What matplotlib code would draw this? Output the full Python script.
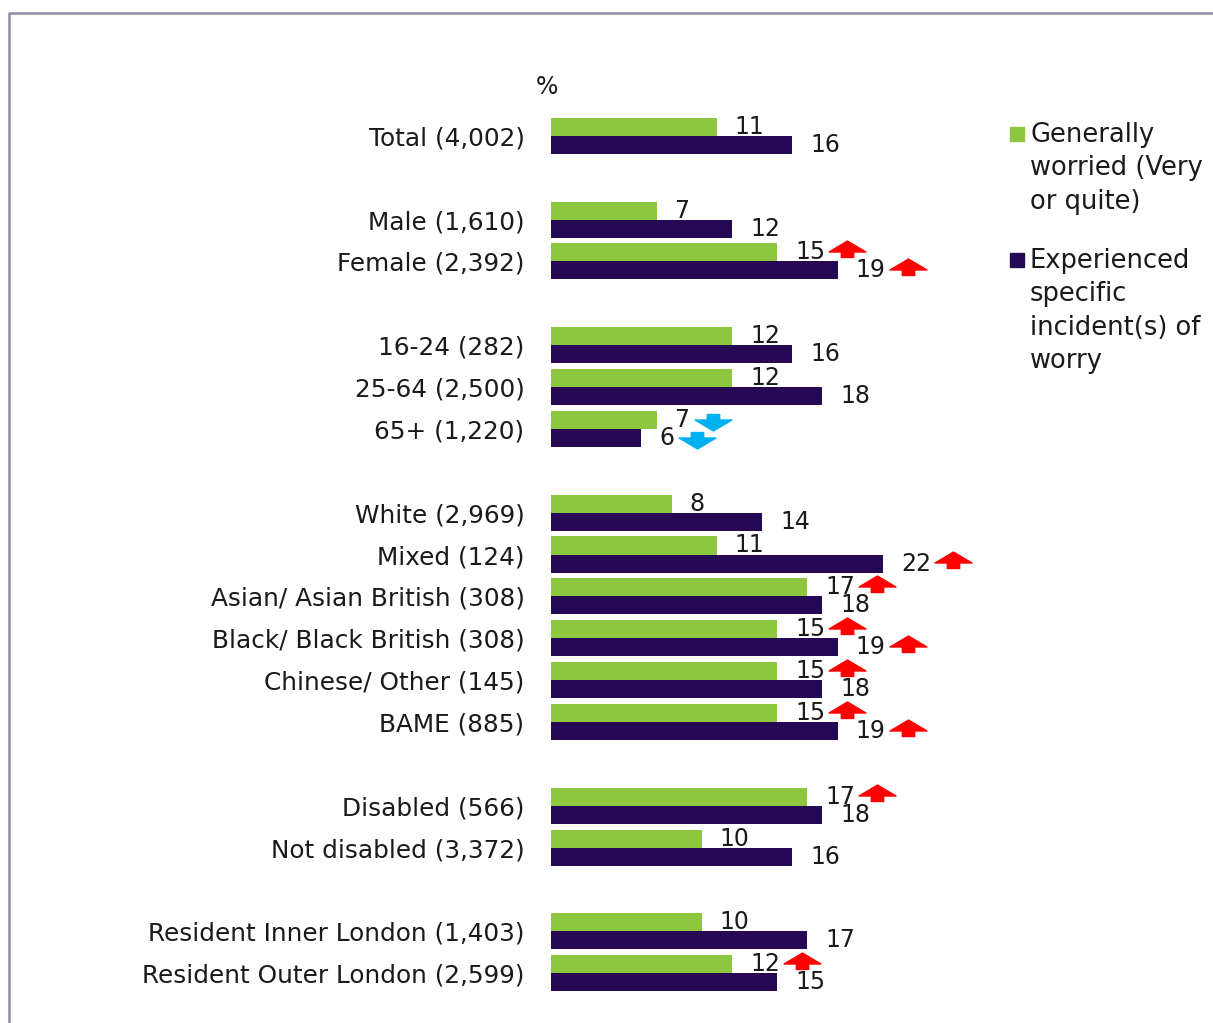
import matplotlib.pyplot as plt
from matplotlib.path import Path
from matplotlib.lines import Line2D
from matplotlib.patches import Rectangle
import matplotlib.transforms as mtransforms

plt.rcParams['font.family'] = ['DejaVu Sans']

# groups of categories, a blank row is left between groups
groups = [
    ["Total (4,002)"],
    ["Male (1,610)", "Female (2,392)"],
    ["16-24 (282)", "25-64 (2,500)", "65+ (1,220)"],
    ["White (2,969)", "Mixed (124)", "Asian/ Asian British (308)",
     "Black/ Black British (308)", "Chinese/ Other (145)", "BAME (885)"],
    ["Disabled (566)", "Not disabled (3,372)"],
    ["Resident Inner London (1,403)", "Resident Outer London (2,599)"],
]

worried = [11, 7, 15, 12, 12, 7, 8, 11, 17, 15, 15, 15, 17, 10, 10, 12]
incident = [16, 12, 19, 16, 18, 6, 14, 22, 18, 19, 18, 19, 18, 16, 17, 15]

# significant differences vs total: "+" higher, "-" lower
worried_sig = ["", "", "+", "", "", "-", "", "", "+", "+", "+", "+", "+", "", "", "+"]
incident_sig = ["", "", "+", "", "", "-", "", "+", "", "+", "", "+", "", "", "", ""]

series_names = ["Generally\nworried (Very\nor quite)",
                "Experienced\nspecific\nincident(s) of\nworry"]

green = "#8DC63F"
purple = "#260955"
txt = "#1a1a1a"

labels = []
pos = []
row = 0
for g in groups:
    for name in g:
        labels.append(name)
        pos.append(row)
        row += 1
    row += 1

fig = plt.figure(figsize=(12.13, 10.23), dpi=100)
ax = fig.add_axes([551 / 1213, 8 / 1023, 377 / 1213, 921 / 1023])

h = 0.43
y_w = [p - h / 2 for p in pos]
y_i = [p + h / 2 for p in pos]
ax.barh(y_w, worried, height=h, color=green)
ax.barh(y_i, incident, height=h, color=purple)

ax.set_xlim(0, 25)
ax.set_ylim(21, -1)
ax.set_yticks(pos)
ax.set_yticklabels(labels, fontsize=17.8, color=txt)
ax.tick_params(axis="y", length=0, pad=19)
ax.set_xticks([])
for s in ax.spines.values():
    s.set_visible(False)

for y, v in zip(y_w, worried):
    ax.annotate(str(v), (v, y), xytext=(13, 0), textcoords="offset points",
                ha="left", va="center", fontsize=17, color=txt)
for y, v in zip(y_i, incident):
    ax.annotate(str(v), (v, y), xytext=(13, 0), textcoords="offset points",
                ha="left", va="center", fontsize=17, color=txt)

# block arrow markers
arrow_up = Path([(-18.5, -2.5), (0, 8.5), (18.5, -2.5), (6.2, -2.5),
                 (6.2, -8), (-6.2, -8), (-6.2, -2.5), (-18.5, -2.5)],
                [Path.MOVETO] + [Path.LINETO] * 6 + [Path.CLOSEPOLY])
arrow_down = Path([(x, -y) for x, y in arrow_up.vertices], arrow_up.codes)


def draw_sig(ys, vals, sigs):
    for y, v, s in zip(ys, vals, sigs):
        if not s:
            continue
        dx = (42 + 14 * len(str(v))) * 0.72
        tr = mtransforms.offset_copy(ax.transData, fig=fig, x=dx, y=0, units="points")
        if s == "+":
            ax.plot([v], [y - 0.08], marker=arrow_up, markersize=26.6,
                    color="#FF0000", linestyle="none", transform=tr, clip_on=False)
        else:
            ax.plot([v], [y + 0.05], marker=arrow_down, markersize=26.6,
                    color="#00B0F0", linestyle="none", transform=tr, clip_on=False)


draw_sig(y_w, worried, worried_sig)
draw_sig(y_i, incident, incident_sig)

fig.text(547 / 1213, 1 - 87 / 1023, "%", fontsize=17, ha="center", va="center",
         color=txt)

# legend
for top, col, name in [(134, green, series_names[0]), (260, purple, series_names[1])]:
    fig.patches.append(Rectangle((1010 / 1213, 1 - (top + 7) / 1023), 14 / 1213, 14 / 1023,
                                 transform=fig.transFigure, color=col))
    fig.text(1030 / 1213, 1 - (top - 12) / 1023, name, fontsize=18.5, ha="left",
             va="top", linespacing=1.37, color=txt)

# outer frame
fig.add_artist(Line2D([9 / 1213, 9 / 1213, 1.0], [0.0, 1 - 13 / 1023, 1 - 13 / 1023],
                      transform=fig.transFigure, color="#8E8CA0", linewidth=1.8))

fig.savefig("out.png", dpi=100, facecolor="white")
